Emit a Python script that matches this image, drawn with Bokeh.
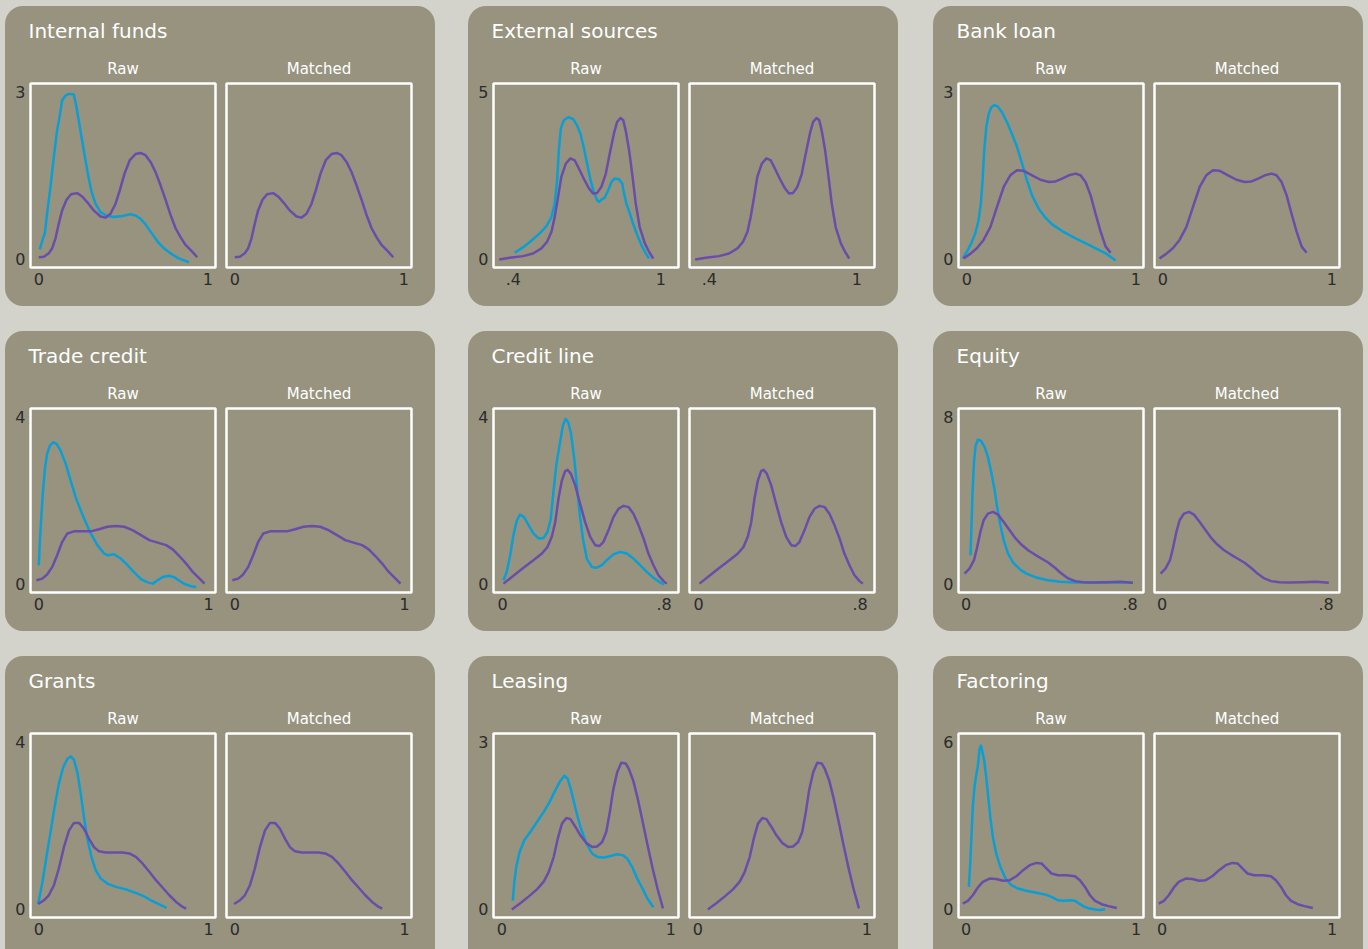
from bokeh.plotting import figure
from bokeh.models import Row, Column, Title, FixedTicker, Range1d
from bokeh.embed import file_html
from bokeh.resources import INLINE

PAGE_BG = "#d3d3cc"
PANEL_BG = "#97937f"
BLUE = "#0a9fd4"
PURPLE = "#6a4da8"
TICK = "#2b2b2b"
FONT = "DejaVu Sans"

titles = ["Internal funds", "External sources", "Bank loan",
          "Trade credit", "Credit line", "Equity",
          "Grants", "Leasing", "Factoring"]
x_ticks = [[0, 1], [0.4, 1], [0, 1], [0, 1], [0, 0.8], [0, 0.8], [0, 1], [0, 1], [0, 1]]
x_tick_labels = [["0", "1"], [".4", "1"], ["0", "1"], ["0", "1"], ["0", ".8"],
                 ["0", ".8"], ["0", "1"], ["0", "1"], ["0", "1"]]
y_max = [3, 5, 3, 4, 4, 8, 4, 3, 6]
x_limits = [(-0.049, 1.045), (0.319, 1.072), (-0.0495, 1.046),
            (-0.049, 1.041), (-0.0445, 0.871), (-0.0376, 0.865),
            (-0.049, 1.041), (-0.0495, 1.046), (-0.045, 1.043)]

# ---- Internal funds
internal_blue_x = [0.006, 0.026, 0.036, 0.049, 0.069, 0.089, 0.108, 0.124, 0.138, 0.158, 0.178, 0.207,
                   0.223, 0.243, 0.266, 0.290, 0.310, 0.335, 0.365, 0.404, 0.444, 0.493, 0.542, 0.572,
                   0.602, 0.631, 0.661, 0.700, 0.740, 0.779, 0.828, 0.888]
internal_blue_y = [0.18, 0.39, 0.47, 0.82, 1.30, 1.84, 2.31, 2.58, 2.85, 2.94, 2.97, 2.96,
                   2.73, 2.37, 1.96, 1.54, 1.24, 1.00, 0.85, 0.78, 0.76, 0.78, 0.81, 0.79,
                   0.73, 0.63, 0.50, 0.33, 0.20, 0.11, 0.02, -0.05]
internal_purple_x = [0.0, 0.030, 0.059, 0.079, 0.099, 0.118, 0.138, 0.164, 0.191, 0.227, 0.256, 0.286,
                     0.325, 0.365, 0.394, 0.424, 0.454, 0.479, 0.507, 0.538, 0.572, 0.602, 0.631, 0.661,
                     0.690, 0.720, 0.750, 0.779, 0.809, 0.838, 0.868, 0.907, 0.937]
internal_purple_y = [0.04, 0.05, 0.11, 0.20, 0.38, 0.64, 0.88, 1.07, 1.17, 1.19, 1.13, 1.03,
                     0.88, 0.77, 0.75, 0.82, 1.00, 1.24, 1.54, 1.78, 1.89, 1.91, 1.87, 1.75,
                     1.57, 1.33, 1.07, 0.80, 0.56, 0.40, 0.26, 0.14, 0.04]

# ---- External sources
external_blue_x = [0.405, 0.439, 0.473, 0.507, 0.534, 0.555, 0.568, 0.578, 0.585, 0.593, 0.605, 0.623,
                   0.643, 0.659, 0.673, 0.686, 0.700, 0.714, 0.727, 0.741, 0.749, 0.758, 0.772, 0.786,
                   0.799, 0.813, 0.830, 0.843, 0.849, 0.860, 0.874, 0.887, 0.904, 0.921, 0.939, 0.952]
external_blue_y = [0.20, 0.36, 0.56, 0.78, 0.99, 1.27, 1.67, 2.37, 3.26, 3.91, 4.16, 4.25,
                   4.20, 4.01, 3.76, 3.36, 2.86, 2.37, 2.02, 1.77, 1.72, 1.79, 1.85, 2.07,
                   2.32, 2.42, 2.40, 2.27, 2.02, 1.67, 1.37, 1.07, 0.73, 0.43, 0.18, 0.03]
external_purple_x = [0.342, 0.385, 0.439, 0.480, 0.514, 0.537, 0.555, 0.568, 0.582, 0.595, 0.613, 0.632,
                     0.650, 0.667, 0.686, 0.708, 0.724, 0.741, 0.758, 0.776, 0.792, 0.809, 0.822, 0.836,
                     0.847, 0.857, 0.871, 0.885, 0.898, 0.914, 0.935, 0.952, 0.969]
external_purple_y = [0.0, 0.05, 0.10, 0.18, 0.33, 0.53, 0.83, 1.27, 1.87, 2.47, 2.86, 3.02,
                     2.96, 2.71, 2.42, 2.12, 1.97, 1.99, 2.17, 2.56, 3.16, 3.76, 4.11, 4.23,
                     4.16, 3.86, 3.26, 2.47, 1.67, 0.97, 0.48, 0.23, 0.03]

# ---- Bank loan
bank_blue_x = [-0.024, 0.0, 0.026, 0.050, 0.069, 0.083, 0.093, 0.103, 0.115, 0.129, 0.145, 0.164,
               0.184, 0.208, 0.238, 0.267, 0.297, 0.327, 0.356, 0.386, 0.426, 0.465, 0.505, 0.564,
               0.644, 0.743, 0.822, 0.881]
bank_blue_y = [0.02, 0.14, 0.29, 0.47, 0.70, 1.00, 1.42, 1.96, 2.37, 2.61, 2.73, 2.77,
               2.74, 2.64, 2.46, 2.25, 2.02, 1.72, 1.42, 1.15, 0.91, 0.75, 0.63, 0.51,
               0.38, 0.23, 0.11, -0.02]
bank_purple_x = [-0.020, 0.020, 0.059, 0.099, 0.139, 0.178, 0.218, 0.257, 0.297, 0.337, 0.386, 0.436,
                 0.485, 0.525, 0.564, 0.604, 0.644, 0.673, 0.703, 0.733, 0.762, 0.792, 0.822, 0.851]
bank_purple_y = [0.02, 0.10, 0.20, 0.35, 0.58, 0.94, 1.30, 1.51, 1.60, 1.59, 1.51, 1.43,
                 1.39, 1.40, 1.45, 1.51, 1.54, 1.51, 1.39, 1.15, 0.82, 0.50, 0.23, 0.12]

# ---- Trade credit
trade_blue_x = [0.0, 0.006, 0.014, 0.024, 0.036, 0.049, 0.065, 0.085, 0.105, 0.128, 0.158, 0.187,
                0.217, 0.247, 0.276, 0.306, 0.345, 0.385, 0.404, 0.444, 0.483, 0.523, 0.562, 0.602,
                0.641, 0.671, 0.700, 0.730, 0.769, 0.799, 0.828, 0.858, 0.897, 0.927]
trade_blue_y = [0.46, 1.02, 1.57, 2.21, 2.77, 3.13, 3.32, 3.40, 3.36, 3.20, 2.89, 2.49,
                2.09, 1.77, 1.49, 1.22, 0.94, 0.74, 0.70, 0.72, 0.62, 0.46, 0.29, 0.13,
                0.05, 0.02, 0.10, 0.18, 0.21, 0.17, 0.09, 0.01, -0.04, -0.06]
trade_purple_x = [-0.014, 0.020, 0.049, 0.079, 0.108, 0.138, 0.168, 0.207, 0.256, 0.306, 0.355, 0.404,
                  0.454, 0.503, 0.552, 0.602, 0.651, 0.700, 0.750, 0.789, 0.828, 0.868, 0.907, 0.947,
                  0.976]
trade_purple_y = [0.10, 0.14, 0.24, 0.42, 0.70, 1.02, 1.22, 1.27, 1.27, 1.27, 1.32, 1.38,
                  1.40, 1.38, 1.30, 1.18, 1.06, 1.00, 0.94, 0.84, 0.68, 0.50, 0.30, 0.14,
                  0.02]

# ---- Credit line
credit_blue_x = [0.005, 0.021, 0.038, 0.054, 0.071, 0.087, 0.107, 0.129, 0.153, 0.178, 0.203, 0.223,
                 0.239, 0.252, 0.266, 0.282, 0.299, 0.312, 0.325, 0.338, 0.355, 0.368, 0.381, 0.398,
                 0.417, 0.442, 0.467, 0.492, 0.516, 0.549, 0.582, 0.615, 0.648, 0.681, 0.714, 0.747,
                 0.780, 0.800]
credit_blue_y = [0.10, 0.30, 0.70, 1.18, 1.53, 1.67, 1.61, 1.42, 1.22, 1.10, 1.11, 1.26,
                 1.57, 2.21, 2.85, 3.32, 3.80, 3.96, 3.88, 3.64, 3.01, 2.37, 1.73, 1.10,
                 0.62, 0.42, 0.40, 0.46, 0.58, 0.72, 0.78, 0.74, 0.62, 0.46, 0.30, 0.16,
                 0.05, 0.0]
credit_purple_x = [0.005, 0.054, 0.104, 0.153, 0.195, 0.223, 0.244, 0.261, 0.277, 0.294, 0.310, 0.322,
                   0.338, 0.360, 0.384, 0.409, 0.434, 0.459, 0.480, 0.500, 0.525, 0.549, 0.574, 0.599,
                   0.624, 0.648, 0.673, 0.698, 0.722, 0.747, 0.772, 0.797, 0.813]
credit_purple_y = [0.02, 0.21, 0.40, 0.58, 0.74, 0.90, 1.14, 1.49, 2.05, 2.49, 2.71, 2.74,
                   2.65, 2.37, 1.93, 1.49, 1.14, 0.94, 0.92, 1.02, 1.30, 1.61, 1.81, 1.88,
                   1.85, 1.69, 1.42, 1.10, 0.74, 0.46, 0.22, 0.08, 0.02]

# ---- Equity
equity_blue_x = [0.021, 0.026, 0.031, 0.038, 0.046, 0.057, 0.073, 0.090, 0.106, 0.122, 0.139, 0.152,
                 0.167, 0.183, 0.204, 0.229, 0.261, 0.294, 0.343, 0.392, 0.457, 0.539, 0.620, 0.702,
                 0.767, 0.813]
equity_blue_y = [1.40, 2.83, 4.42, 5.85, 6.65, 6.92, 6.86, 6.57, 6.09, 5.38, 4.50, 3.63,
                 2.83, 2.12, 1.48, 1.05, 0.73, 0.52, 0.33, 0.21, 0.13, 0.10, 0.10, 0.11,
                 0.10, 0.08]
equity_purple_x = [-0.008, 0.016, 0.038, 0.052, 0.069, 0.085, 0.106, 0.131, 0.155, 0.183, 0.212, 0.242,
                   0.269, 0.302, 0.335, 0.367, 0.400, 0.433, 0.465, 0.498, 0.531, 0.571, 0.620, 0.686,
                   0.751, 0.813]
equity_purple_y = [0.52, 0.76, 1.16, 1.72, 2.51, 3.07, 3.39, 3.47, 3.34, 2.99, 2.59, 2.19,
                   1.91, 1.64, 1.43, 1.24, 1.05, 0.80, 0.52, 0.29, 0.16, 0.11, 0.10, 0.11,
                   0.13, 0.08]

# ---- Grants
grants_blue_x = [-0.004, 0.020, 0.045, 0.069, 0.093, 0.118, 0.144, 0.168, 0.187, 0.207, 0.227, 0.247,
                 0.266, 0.286, 0.310, 0.335, 0.365, 0.404, 0.454, 0.513, 0.562, 0.611, 0.661, 0.710,
                 0.753]
grants_blue_y = [0.13, 0.62, 1.26, 1.85, 2.45, 3.01, 3.40, 3.60, 3.66, 3.58, 3.28, 2.77,
                 2.21, 1.69, 1.26, 0.94, 0.74, 0.62, 0.54, 0.48, 0.41, 0.33, 0.22, 0.12,
                 0.04]
grants_purple_x = [-0.004, 0.030, 0.059, 0.089, 0.118, 0.148, 0.178, 0.207, 0.237, 0.266, 0.296, 0.325,
                   0.355, 0.394, 0.444, 0.493, 0.533, 0.572, 0.611, 0.651, 0.690, 0.730, 0.769, 0.809,
                   0.848, 0.868]
grants_purple_y = [0.13, 0.22, 0.34, 0.58, 0.98, 1.49, 1.89, 2.07, 2.07, 1.93, 1.69, 1.49,
                   1.39, 1.36, 1.36, 1.36, 1.34, 1.26, 1.10, 0.90, 0.70, 0.52, 0.34, 0.18,
                   0.06, 0.02]

# ---- Leasing
leasing_blue_x = [0.065, 0.073, 0.085, 0.105, 0.133, 0.168, 0.208, 0.248, 0.283, 0.317, 0.347, 0.370,
                  0.390, 0.410, 0.436, 0.465, 0.501, 0.535, 0.568, 0.604, 0.644, 0.683, 0.719, 0.743,
                  0.772, 0.802, 0.832, 0.861, 0.897]
leasing_blue_y = [0.16, 0.47, 0.76, 1.03, 1.24, 1.39, 1.57, 1.75, 1.93, 2.14, 2.31, 2.40,
                  2.34, 2.14, 1.81, 1.48, 1.18, 1.00, 0.94, 0.93, 0.96, 0.99, 0.97, 0.91,
                  0.76, 0.55, 0.38, 0.20, 0.04]
leasing_purple_x = [0.059, 0.109, 0.158, 0.208, 0.248, 0.277, 0.307, 0.331, 0.356, 0.382, 0.406, 0.436,
                    0.465, 0.501, 0.535, 0.564, 0.594, 0.618, 0.638, 0.659, 0.683, 0.707, 0.733, 0.752,
                    0.778, 0.802, 0.832, 0.861, 0.891, 0.921, 0.954]
leasing_purple_y = [0.0, 0.11, 0.23, 0.36, 0.50, 0.67, 0.94, 1.27, 1.54, 1.64, 1.62, 1.48,
                    1.33, 1.19, 1.12, 1.13, 1.21, 1.39, 1.72, 2.14, 2.46, 2.63, 2.62, 2.52,
                    2.31, 2.02, 1.60, 1.18, 0.76, 0.38, 0.02]

# ---- Factoring
factoring_blue_x = [0.016, 0.024, 0.031, 0.039, 0.049, 0.059, 0.069, 0.079, 0.087, 0.094, 0.106, 0.118,
                    0.130, 0.142, 0.157, 0.177, 0.201, 0.232, 0.266, 0.305, 0.354, 0.413, 0.463, 0.502,
                    0.541, 0.571, 0.610, 0.640, 0.665, 0.689, 0.719, 0.758, 0.787, 0.817]
factoring_blue_y = [0.81, 1.65, 2.60, 3.67, 4.39, 4.81, 5.16, 5.76, 5.88, 5.70, 5.34, 4.75,
                    4.03, 3.32, 2.60, 2.00, 1.53, 1.11, 0.87, 0.75, 0.67, 0.60, 0.54, 0.45,
                    0.33, 0.31, 0.33, 0.31, 0.21, 0.12, 0.04, 0.0, -0.02, 0.01]
factoring_purple_x = [-0.020, 0.010, 0.039, 0.069, 0.098, 0.138, 0.177, 0.217, 0.256, 0.295, 0.335, 0.374,
                      0.413, 0.443, 0.472, 0.502, 0.541, 0.591, 0.640, 0.669, 0.699, 0.728, 0.758, 0.797,
                      0.837, 0.886]
factoring_purple_y = [0.21, 0.31, 0.51, 0.79, 0.99, 1.11, 1.09, 1.03, 1.05, 1.19, 1.41, 1.59,
                      1.67, 1.65, 1.47, 1.29, 1.23, 1.23, 1.19, 1.05, 0.81, 0.51, 0.31, 0.19,
                      0.12, 0.05]

blue_x = [internal_blue_x, external_blue_x, bank_blue_x, trade_blue_x, credit_blue_x,
          equity_blue_x, grants_blue_x, leasing_blue_x, factoring_blue_x]
blue_y = [internal_blue_y, external_blue_y, bank_blue_y, trade_blue_y, credit_blue_y,
          equity_blue_y, grants_blue_y, leasing_blue_y, factoring_blue_y]
purple_x = [internal_purple_x, external_purple_x, bank_purple_x, trade_purple_x, credit_purple_x,
            equity_purple_x, grants_purple_x, leasing_purple_x, factoring_purple_x]
purple_y = [internal_purple_y, external_purple_y, bank_purple_y, trade_purple_y, credit_purple_y,
            equity_purple_y, grants_purple_y, leasing_purple_y, factoring_purple_y]

FIG_W = 215
TOP = 77
FRAME_H = 184


def make_fig(i, raw, height):
    ym = y_max[i]
    f = figure(width=FIG_W, height=height,
               x_range=Range1d(*x_limits[i]),
               y_range=Range1d(-0.048 * ym, 1.052 * ym),
               output_backend="svg", toolbar_location=None, title=None,
               y_axis_location="left" if raw else None,
               min_border_left=25 if raw else 6,
               min_border_right=5 if raw else 24,
               min_border_top=TOP,
               min_border_bottom=height - TOP - FRAME_H)
    f.background_fill_color = None
    f.border_fill_color = None
    f.outline_line_color = "white"
    f.outline_line_width = 2.5
    f.outline_line_alpha = 1.0
    f.xgrid.visible = False
    f.ygrid.visible = False
    axes = [f.xaxis[0]] + ([f.yaxis[0]] if raw else [])
    for ax in axes:
        ax.axis_line_color = None
        ax.major_tick_line_color = None
        ax.minor_tick_line_color = None
        ax.major_tick_out = 0
        ax.major_tick_in = 0
        ax.minor_tick_out = 0
        ax.minor_tick_in = 0
        ax.major_label_text_color = TICK
        ax.major_label_text_font = FONT
        ax.major_label_text_font_size = "16px"
        ax.major_label_standoff = 5
    f.xaxis.ticker = FixedTicker(ticks=x_ticks[i])
    f.xaxis.major_label_overrides = {float(t): lab for t, lab in zip(x_ticks[i], x_tick_labels[i])}
    if raw:
        f.yaxis.ticker = FixedTicker(ticks=[0, ym])
        f.line(blue_x[i], blue_y[i], line_color=BLUE, line_width=2.5, line_join="round")
    f.line(purple_x[i], purple_y[i], line_color=PURPLE, line_width=2.5, line_join="round")
    f.add_layout(Title(text="Raw" if raw else "Matched", align="center", text_color="white",
                       text_font=FONT, text_font_size="15px", text_font_style="normal",
                       standoff=11), "above")
    if raw:
        f.add_layout(Title(text=titles[i], align="left", text_color="white",
                           text_font=FONT, text_font_size="20px", text_font_style="normal",
                           standoff=20, offset=-2), "above")
    return f


panel_left_margins = [5, 33, 35]
row_top_margins = [6, 25, 25]
row_heights = [300, 300, 293]

grid_rows = []
for r in range(3):
    panels = []
    for c in range(3):
        i = r * 3 + c
        h = row_heights[r]
        radius = "18px" if r < 2 else "18px 18px 0 0"
        panel = Row(children=[make_fig(i, True, h), make_fig(i, False, h)], spacing=0,
                    margin=(0, 0, 0, panel_left_margins[c]),
                    styles={"background-color": PANEL_BG, "border-radius": radius, "overflow": "hidden"})
        panels.append(panel)
    grid_rows.append(Row(children=panels, spacing=0, margin=(row_top_margins[r], 0, 0, 0)))

p = Column(children=grid_rows, spacing=0, width=1368, height=949,
           styles={"background-color": PAGE_BG})

open("out.html", "w").write(file_html(p, INLINE))
